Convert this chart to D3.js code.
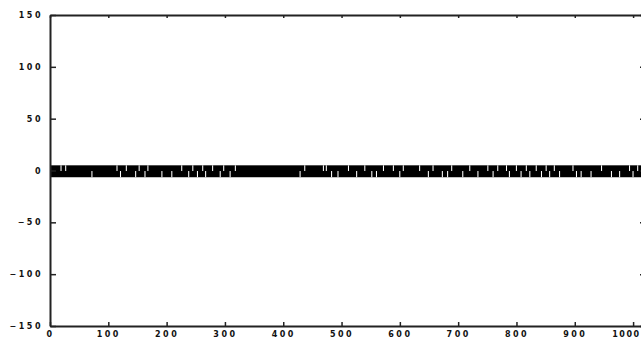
<!DOCTYPE html>
<html>
<head>
<meta charset="utf-8">
<script src="https://cdn.jsdelivr.net/npm/d3@7"></script>
<style>
  body { margin: 0; background: #fff; }
  .tick text { font-family: "DejaVu Sans", sans-serif; font-weight: bold; font-size: 8px; letter-spacing: 2.5px; fill: #111; }
</style>
</head>
<body>
<div id="chart"></div>
<script>
// axis ticks
const xTicks = [0, 100, 200, 300, 400, 500, 600, 700, 800, 900, 1000];
const yTicks = [-150, -100, -50, 0, 50, 100, 150];

// the signal fills a solid band around zero
const bandTop = 5;
const bandBottom = -6.5;

// sample positions where the band has a white gap
const topGaps = [18, 26, 114, 130, 152, 167, 225, 244, 261, 278, 297, 317, 436, 468, 473,
  511, 539, 571, 588, 605, 633, 656, 688, 719, 750, 767, 782, 799, 816, 833, 850, 864,
  896, 945, 993, 1007];
const bottomGaps = [71, 120, 146, 162, 191, 208, 237, 252, 266, 291, 308, 428, 482, 493,
  525, 551, 559, 599, 648, 672, 681, 707, 733, 759, 787, 807, 822, 842, 856, 873, 902,
  910, 927, 962, 976, 999];

const config = {
  width: 641,
  height: 341,
  margin: { top: 15, right: -2, bottom: 15, left: 50 },
};

const width = config.width - config.margin.left - config.margin.right;
const height = config.height - config.margin.top - config.margin.bottom;

const svg = d3.select("#chart")
  .append("svg")
  .attr("width", config.width)
  .attr("height", config.height)
  .append("g")
  .attr("transform", `translate(${config.margin.left},${config.margin.top})`);

const xScale = d3.scaleLinear().domain([0, 1017]).range([0, width]);
const yScale = d3.scaleLinear().domain([-150, 150]).range([height, 0]);

// band
svg.append("rect")
  .attr("x", xScale(0))
  .attr("y", yScale(bandTop))
  .attr("width", xScale(1017) - xScale(0))
  .attr("height", yScale(bandBottom) - yScale(bandTop))
  .attr("fill", "#000");

const gapW = xScale(1.8) - xScale(0);

svg.selectAll(".gap-top")
  .data(topGaps)
  .join("rect")
  .attr("class", "gap-top")
  .attr("x", d => xScale(d))
  .attr("y", yScale(bandTop))
  .attr("width", gapW)
  .attr("height", yScale(-0.5) - yScale(bandTop))
  .attr("fill", "#fff");

svg.selectAll(".gap-bottom")
  .data(bottomGaps)
  .join("rect")
  .attr("class", "gap-bottom")
  .attr("x", d => xScale(d))
  .attr("y", yScale(-0.5))
  .attr("width", gapW)
  .attr("height", yScale(bandBottom) - yScale(-0.5))
  .attr("fill", "#fff");

// axes (ticks point inward)
const xAxis = d3.axisBottom(xScale).tickValues(xTicks).tickFormat(d3.format("d"))
  .tickSize(-4).tickSizeOuter(0).tickPadding(5);
const yAxis = d3.axisLeft(yScale).tickValues(yTicks).tickSize(-6).tickSizeOuter(0).tickPadding(7);
const xAxisTop = d3.axisTop(xScale).tickValues(xTicks).tickSize(-3).tickSizeOuter(0).tickFormat("");
const yAxisRight = d3.axisRight(yScale).tickValues(yTicks).tickSize(-3).tickSizeOuter(0).tickFormat("");

const xAxisGroup = svg.append("g").attr("transform", `translate(0,${height})`).call(xAxis);
svg.append("g").call(yAxis);
svg.append("g").call(xAxisTop);
svg.append("g").attr("transform", `translate(${width},0)`).call(yAxisRight);

// last label sits at the page edge: keep it inside
xAxisGroup.selectAll(".tick text")
  .filter(d => d === 1000)
  .attr("text-anchor", "end")
  .attr("x", config.width - config.margin.left - xScale(1000) - 1)
  .style("letter-spacing", "1.5px");

svg.selectAll(".domain").attr("stroke", "#222").attr("stroke-width", 2);
svg.selectAll(".tick line").attr("stroke", "#222").attr("stroke-width", 1.5);
</script>
</body>
</html>
